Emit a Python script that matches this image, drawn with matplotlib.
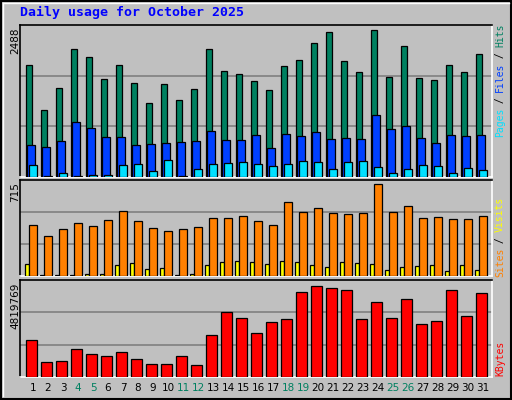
import numpy as np
import matplotlib
matplotlib.use("Agg")
import matplotlib.pyplot as plt

days = list(range(1, 32))
weekend = [4, 5, 11, 12, 18, 19, 25, 26]
hits = [1897, 1137, 1509, 2167, 2032, 1661, 1897, 1593, 1255, 1576, 1306, 1492, 2167, 1796, 1745, 1627,
        1475, 1880, 1982, 2269, 2454, 1965, 1779, 2488, 1694, 2218, 1678, 1644, 1897, 1779, 2083]
files = [546, 512, 614, 935, 833, 681, 681, 546, 563, 580, 597, 614, 783, 631, 631, 715,
         495, 732, 698, 766, 647, 664, 647, 1053, 816, 867, 664, 580, 715, 698, 715]
pages = [208, 23, 73, 23, 39, 39, 208, 225, 107, 293, 23, 141, 225, 242, 259, 225,
         191, 225, 276, 259, 141, 259, 276, 175, 73, 141, 208, 191, 73, 158, 124]
visits = [396, 311, 365, 412, 389, 435, 505, 427, 373, 350, 365, 381, 451, 451, 466, 427,
          396, 575, 497, 528, 490, 482, 490, 715, 497, 544, 451, 458, 443, 443, 466]
sites = [93, 8, 8, 8, 16, 16, 85, 101, 54, 62, 8, 16, 85, 109, 117, 109,
         93, 117, 109, 85, 70, 109, 101, 93, 47, 70, 78, 85, 39, 85, 47]
kbytes = [1960000, 790000, 850000, 1480000, 1220000, 1110000, 1320000, 950000, 690000, 690000,
          1110000, 640000, 2220000, 3440000, 3120000, 2330000, 2910000, 3070000, 4500000, 4819769,
          4710000, 4610000, 3070000, 3970000, 3120000, 4130000, 2810000, 2970000, 4610000, 3230000,
          4450000]

W, H = 512, 400
BG = "#C0C0C0"
fig = plt.figure(figsize=(W / 100, H / 100), dpi=100, facecolor=BG)
mono = "DejaVu Sans Mono"


def fx(px):
    return px / W


def fy(py):
    return 1 - py / H


def panel(top, bottom):
    ax = fig.add_axes([fx(20), fy(bottom), fx(492) - fx(20), (bottom - top) / H])
    ax.set_facecolor(BG)
    ax.set_xlim(0, 472 / 15)
    ax.set_xticks([])
    ax.set_yticks([])
    for s in ["left", "top"]:
        ax.spines[s].set_color("black")
    for s in ["right", "bottom"]:
        ax.spines[s].set_color("white")
    for s in ax.spines.values():
        s.set_linewidth(1.2)
    return ax


x = np.array(days, dtype=float)
ekw = dict(edgecolor="black", linewidth=0.9, align="edge", zorder=3)

# top: hits / files / pages
ax1 = panel(25, 177)
ymax = 2488 * 152 / 147.4
ax1.set_ylim(0, ymax)
for g in (ymax / 3, 2 * ymax / 3):
    ax1.axhline(g, color="#808080", lw=1.2, zorder=1)
ax1.bar(x - 0.62, hits, 0.44, color="#008060", **ekw)
ax1.bar(x - 0.51, files, 0.49, color="#0040FF", **ekw)
ax1.bar(x - 0.38, pages, 0.49, color="#00E0FF", **ekw)

# middle: sites / visits
ax2 = panel(180, 276)
ymax = 715 * 96 / 91.7
ax2.set_ylim(0, ymax)
for g in (ymax / 3, 2 * ymax / 3):
    ax2.axhline(g, color="#808080", lw=1.2, zorder=1)
ax2.bar(x - 0.64, sites, 0.27, color="#FFFF00", **ekw)
ax2.bar(x - 0.38, visits, 0.49, color="#FF8000", **ekw)

# bottom: kbytes
ax3 = panel(280, 377)
ymax = 4819769 * 97 / 91
ax3.set_ylim(0, ymax)
for g in (ymax / 3, 2 * ymax / 3):
    ax3.axhline(g, color="#808080", lw=1.2, zorder=1)
ax3.bar(x - 0.58, kbytes, 0.69, color="#FF0000", **ekw)

# day labels
for d in days:
    px = 20 + (d - 0.13) * 15
    fig.text(fx(px), fy(388), str(d), ha="center", va="center", fontsize=7.5,
             color="#008060" if d in weekend else "black", family="DejaVu Sans")

fig.text(fx(20), fy(12), "Daily usage for October 2025", color="#0000FF",
         fontsize=9.5, fontweight="bold", family=mono, va="center", ha="left")

# left max labels
for txt, top in [("2488", 27), ("715", 182), ("4819769", 283)]:
    fig.text(fx(15), fy(top), txt, rotation=90, ha="center", va="top",
             fontsize=7.5, family="DejaVu Sans")


def vlabel(parts, bottom, cw=5.6):
    y = bottom
    for t, c in parts:
        fig.text(fx(500), fy(y), t, rotation=90, ha="center", va="bottom",
                 fontsize=7, family=mono, color=c)
        y -= len(t) * cw


vlabel([("Pages", "#00E0FF"), (" / ", "black"), ("Files", "#0040FF"),
        (" / ", "black"), ("Hits", "#008060")], 137)
vlabel([("Sites", "#FF8000"), (" / ", "black"), ("Visits", "#FFFF00")], 277)
vlabel([("KBytes", "#FF0000")], 376)

# outer frame
fig.add_artist(plt.Rectangle((0.002, 0.002), 0.996, 0.996, transform=fig.transFigure,
                             fill=False, edgecolor="black", lw=1.5))
fig.add_artist(plt.Line2D([fx(3), fx(509)], [fy(3), fy(3)], transform=fig.transFigure,
                          color="white", lw=1))
fig.add_artist(plt.Line2D([fx(3), fx(3)], [fy(3), fy(396)], transform=fig.transFigure,
                          color="white", lw=1))

fig.savefig("out.png", dpi=100, facecolor=BG)
